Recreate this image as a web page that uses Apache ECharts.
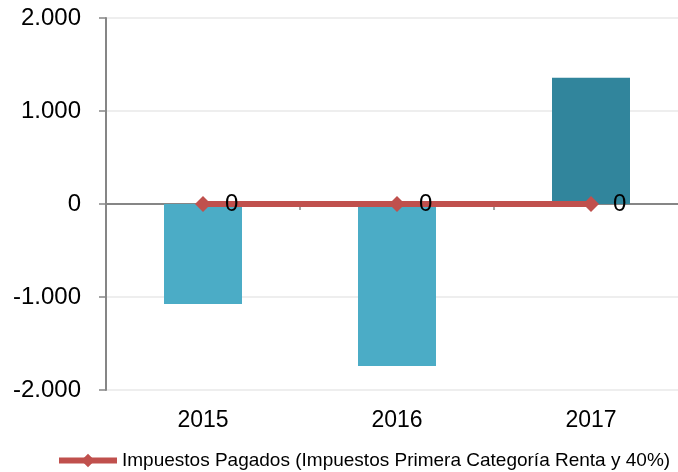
<!DOCTYPE html>
<html>
<head>
<meta charset="utf-8">
<script src="https://cdn.jsdelivr.net/npm/echarts@6/dist/echarts.min.js"></script>
<style>
  html, body { margin: 0; padding: 0; background: #fff; }
  #chart { width: 678px; height: 472px; }
</style>
</head>
<body>
<div id="chart"></div>
<script>
// datos
const years = ['2015', '2016', '2017']
const barValues = [-1075, -1742, 1358]
const barColors = ['#4bacc6', '#4bacc6', '#31859c']
const paidTaxes = [0, 0, 0]
const lineName = 'Impuestos Pagados (Impuestos Primera Categoría Renta y 40%)'

const font = '"Liberation Sans", Arial, sans-serif'

// 2000 -> "2.000"
function fmtMiles(v) {
  const s = String(Math.abs(v)).replace(/\B(?=(\d{3})+(?!\d))/g, '.')
  return (v < 0 ? '-' : '') + s
}

let myChart = echarts.init(document.getElementById('chart'))

let option = {
  animation: false,
  // el area de dibujo sigue un poco mas alla del borde derecho
  grid: { left: 106, width: 582, top: 18, bottom: 82, outerBoundsMode: 'none' },
  legend: {
    data: [lineName],
    left: 51,
    top: 446,
    itemWidth: 58,
    itemHeight: 17,
    itemGap: 5,
    lineStyle: { width: 6 },
    textStyle: { fontFamily: font, fontSize: 19, color: '#000' }
  },
  xAxis: [
    {
      // solo etiquetas, abajo
      type: 'category',
      data: years,
      position: 'bottom',
      axisLine: { show: false, onZero: false },
      axisTick: { show: false },
      axisLabel: { fontFamily: font, fontSize: 23, color: '#000', margin: 19 }
    },
    {
      // linea del eje en cero con marcas
      type: 'category',
      data: years,
      position: 'top',
      axisLine: { show: true, onZero: true, lineStyle: { color: '#868686', width: 2 } },
      axisTick: { show: true, inside: true, length: 6, lineStyle: { color: '#868686', width: 1.5 } },
      axisLabel: { show: false }
    }
  ],
  yAxis: {
    type: 'value',
    min: -2000,
    max: 2000,
    interval: 1000,
    axisLine: { show: true, lineStyle: { color: '#868686', width: 2 } },
    axisTick: { show: true, length: 7, lineStyle: { color: '#868686', width: 1.5 } },
    splitLine: { lineStyle: { color: '#eeeeee', width: 2 } },
    axisLabel: {
      fontFamily: font, fontSize: 24, color: '#000', margin: 25,
      formatter: fmtMiles
    }
  },
  series: [
    {
      type: 'bar',
      name: 'Resultado',
      xAxisIndex: 0,
      barWidth: 78,
      data: barValues.map((v, i) => ({ value: v, itemStyle: { color: barColors[i] } })),
      z: 2
    },
    {
      type: 'line',
      name: lineName,
      xAxisIndex: 0,
      data: paidTaxes,
      symbol: 'diamond',
      symbolSize: 16,
      lineStyle: { color: '#c0504d', width: 6 },
      itemStyle: { color: '#c0504d' },
      label: {
        show: true,
        position: 'right',
        distance: 14,
        fontFamily: font,
        fontSize: 24,
        color: '#000'
      },
      z: 5
    }
  ]
}
myChart.setOption(option)
</script>
</body>
</html>
